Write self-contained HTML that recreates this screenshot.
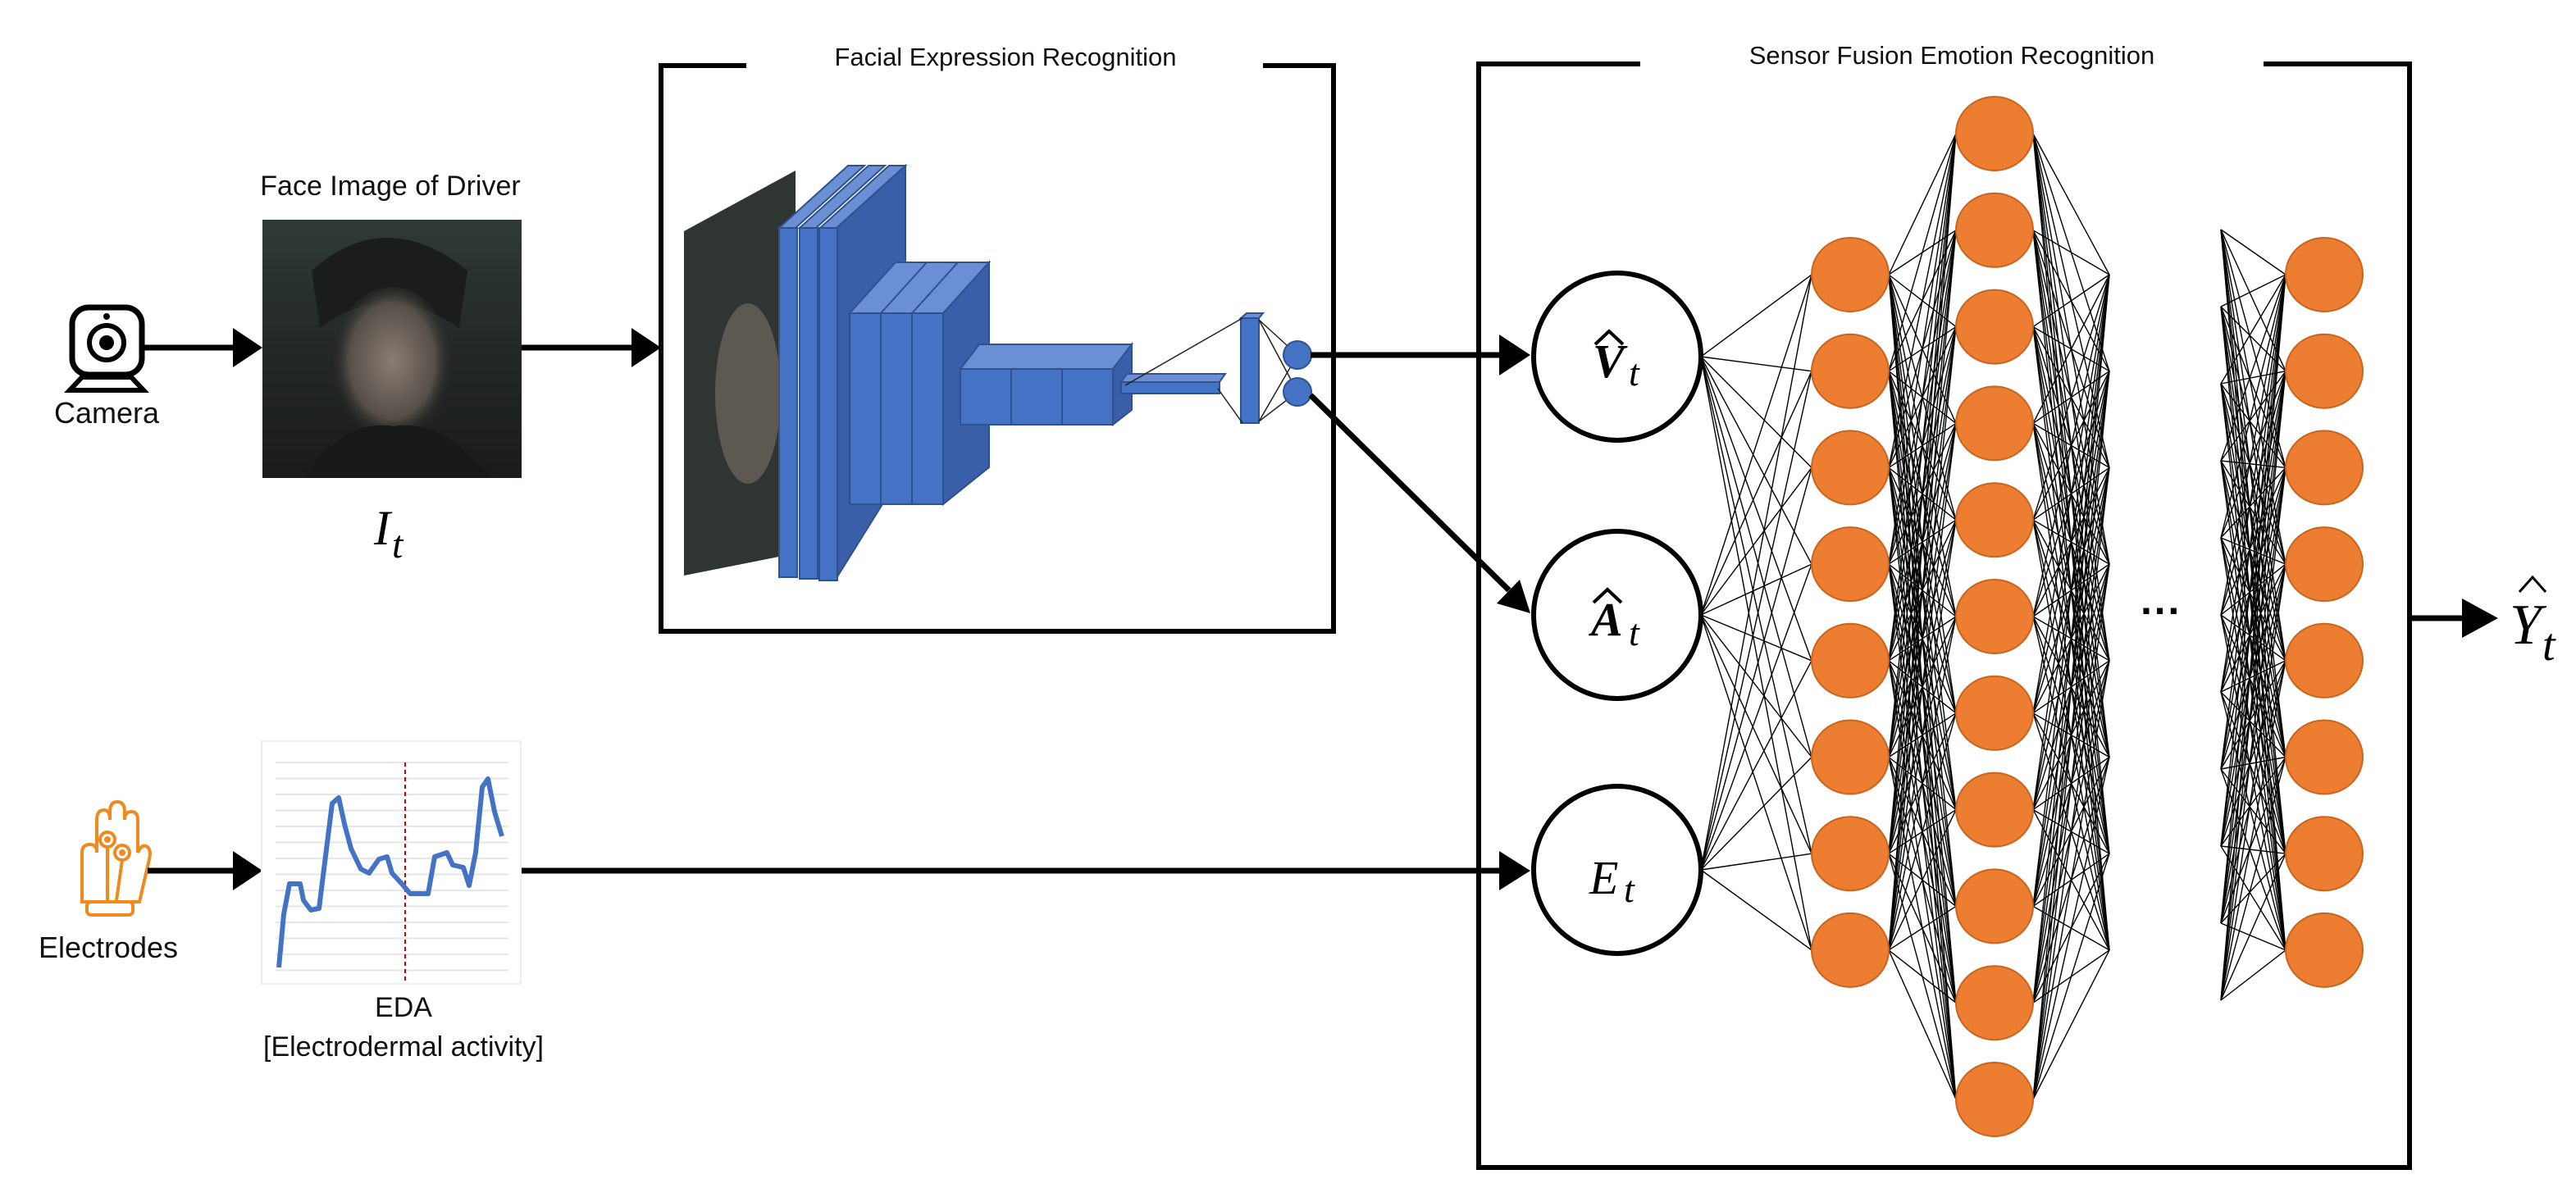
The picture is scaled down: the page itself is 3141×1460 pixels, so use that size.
<!DOCTYPE html>
<html><head><meta charset="utf-8">
<style>
html,body{margin:0;padding:0;background:#fff;}
svg{display:block;}
.t{font-family:"Liberation Sans",sans-serif;fill:#111;}
.m{font-family:"Liberation Serif",serif;font-style:italic;fill:#000;}
</style></head><body>
<svg id="s" width="3141" height="1460" viewBox="0 0 3141 1460" xmlns="http://www.w3.org/2000/svg">
<defs>
<linearGradient id="fg" x1="0" y1="0" x2="0" y2="1">
<stop offset="0" stop-color="#2f3a37"/><stop offset="0.5" stop-color="#232826"/><stop offset="1" stop-color="#1a1c1a"/>
</linearGradient>
<radialGradient id="face" cx="0.5" cy="0.45" r="0.5">
<stop offset="0" stop-color="#8a7e74"/><stop offset="0.7" stop-color="#564e48"/><stop offset="1" stop-color="#232826" stop-opacity="0"/>
</radialGradient>
</defs>
<rect width="3141" height="1460" fill="#fff"/>

<!-- Camera icon -->
<rect x="88" y="375" width="85" height="82" rx="20" fill="none" stroke="#000" stroke-width="7"/>
<circle cx="130" cy="418" r="21" fill="none" stroke="#000" stroke-width="6"/>
<circle cx="130" cy="418" r="9" fill="#000"/>
<circle cx="130" cy="386" r="4" fill="#000"/>
<path d="M100 460 L160 460 L175 476 L85 476 Z" fill="none" stroke="#000" stroke-width="6"/>
<text class="t" x="130" y="516" font-size="36" text-anchor="middle">Camera</text>

<line x1="172" y1="424" x2="292" y2="424" stroke="#000" stroke-width="7"/>
<polygon points="284,400 320,424 284,448" fill="#000"/>

<!-- face image -->
<text class="t" x="476" y="238" font-size="34" text-anchor="middle">Face Image of Driver</text>
<rect x="320" y="268" width="316" height="315" fill="url(#fg)"/>
<path d="M380 330 Q470 250 570 330 L560 400 Q470 340 390 400 Z" fill="#1a1d1c"/>
<ellipse cx="478" cy="450" rx="75" ry="100" fill="url(#face)"/>
<path d="M370 583 Q420 510 480 520 Q540 510 600 583 Z" fill="#171918"/>
<text class="m" x="456" y="664" font-size="60">I</text><text class="m" x="478" y="680" font-size="48">t</text>

<line x1="636" y1="424" x2="780" y2="424" stroke="#000" stroke-width="7"/>
<polygon points="770,400 806,424 770,448" fill="#000"/>

<!-- FER box -->
<path d="M910 80 L806 80 L806 770 L1626 770 L1626 80 L1540 80" fill="none" stroke="#000" stroke-width="6"/>
<text class="t" x="1226" y="80" font-size="31" text-anchor="middle">Facial Expression Recognition</text>

<!-- CNN -->
<polygon points="834,282 970,208 970,675 834,702" fill="#2f3532"/>
<ellipse cx="912" cy="480" rx="40" ry="110" fill="#6a625b" opacity="0.8"/>
<g stroke="#2F528F" stroke-width="2">
<polygon points="1000,278 1084,202 1104,202 1020,278" fill="#6A8FD4"/>
<polygon points="1020,278 1104,202 1104,570 1020,705" fill="#3A5FA8"/>
<polygon points="950,278 1034,202 1054,202 970,278" fill="#6A8FD4"/>
<polygon points="975,278 1059,202 1079,202 995,278" fill="#6A8FD4"/>
<rect x="950" y="278" width="22" height="426" fill="#4472C4"/>
<rect x="975" y="278" width="22" height="428" fill="#4472C4"/>
<rect x="999" y="278" width="22" height="430" fill="#4472C4"/>

<polygon points="1036,382 1092,320 1206,320 1150,382" fill="#6A8FD4"/>
<polygon points="1150,382 1206,320 1206,570 1150,615" fill="#3A5FA8"/>
<rect x="1036" y="382" width="38" height="233" fill="#4472C4"/>
<rect x="1074" y="382" width="38" height="233" fill="#4472C4"/>
<rect x="1112" y="382" width="38" height="233" fill="#4472C4"/>
<line x1="1074" y1="382" x2="1130" y2="320"/><line x1="1112" y1="382" x2="1168" y2="320"/>

<polygon points="1171,450 1194,420 1380,420 1357,450" fill="#6A8FD4"/>
<polygon points="1357,450 1380,420 1380,500 1357,518" fill="#3A5FA8"/>
<rect x="1171" y="450" width="62" height="68" fill="#4472C4"/>
<rect x="1233" y="450" width="62" height="68" fill="#4472C4"/>
<rect x="1295" y="450" width="62" height="68" fill="#4472C4"/>

<polygon points="1367,466 1374,456 1494,456 1487,466" fill="#6A8FD4"/>
<rect x="1367" y="466" width="120" height="14" fill="#4472C4"/>
<rect x="1513" y="388" width="22" height="128" fill="#4472C4"/>
<polygon points="1513,388 1520,382 1540,382 1535,388" fill="#6A8FD4"/>
</g>
<g stroke="#222" stroke-width="1.5">
<line x1="1372" y1="470" x2="1515" y2="388"/><line x1="1485" y1="474" x2="1515" y2="516"/>
<line x1="1535" y1="390" x2="1582" y2="433"/><line x1="1535" y1="390" x2="1582" y2="478"/>
<line x1="1535" y1="514" x2="1582" y2="433"/><line x1="1535" y1="514" x2="1582" y2="478"/>
</g>
<circle cx="1582" cy="433" r="17" fill="#4472C4" stroke="#2F528F" stroke-width="2"/>
<circle cx="1582" cy="478" r="17" fill="#4472C4" stroke="#2F528F" stroke-width="2"/>

<line x1="1598" y1="433" x2="1835" y2="433" stroke="#000" stroke-width="7"/>
<polygon points="1828,408 1866,433 1828,458" fill="#000"/>
<line x1="1598" y1="482" x2="1840" y2="720" stroke="#000" stroke-width="7"/>
<polygon points="1825,736 1866,748 1853,707" fill="#000"/>

<!-- Electrodes -->
<g fill="none" stroke="#EE8A1E" stroke-width="4">
<path d="M100 1100 L100 1040 Q100 1030 110 1030 Q118 1030 118 1040 L118 1000 Q118 988 127 988 Q134 988 134 1000 L134 990 Q134 978 143 978 Q152 978 152 990 L152 1000 Q152 990 160 990 Q168 990 168 1000 L168 1040 Q172 1030 178 1032 Q185 1035 182 1048 L170 1100 Z"/>
<rect x="106" y="1100" width="56" height="16" rx="5"/>
<circle cx="131" cy="1024" r="9"/><circle cx="149" cy="1040" r="9"/>
<line x1="131" y1="1033" x2="131" y2="1098"/><line x1="149" y1="1049" x2="142" y2="1098"/>
</g>
<circle cx="131" cy="1024" r="4" fill="#EE8A1E"/><circle cx="149" cy="1040" r="4" fill="#EE8A1E"/>
<text class="t" x="132" y="1168" font-size="36" text-anchor="middle">Electrodes</text>

<line x1="180" y1="1062" x2="292" y2="1062" stroke="#000" stroke-width="7"/>
<polygon points="284,1038 320,1062 284,1086" fill="#000"/>

<!-- EDA chart -->
<rect x="319" y="904" width="316" height="296" fill="#fff" stroke="#eee" stroke-width="2"/>
<g stroke="#e6e6e6" stroke-width="2" id="grid"></g>
<line x1="494" y1="930" x2="494" y2="1200" stroke="#c00" stroke-width="2" stroke-dasharray="5,4"/>
<polyline fill="none" stroke="#4472C4" stroke-width="6" stroke-linejoin="round" points="340,1180 346,1115 353,1078 366,1078 370,1098 379,1110 389,1108 395,1060 405,980 413,973 420,1005 428,1035 440,1060 450,1065 462,1048 472,1045 478,1065 490,1078 500,1090 515,1090 522,1090 530,1045 545,1040 552,1055 565,1058 572,1080 580,1040 588,960 595,950 603,990 612,1020"/>
<text class="t" x="492" y="1240" font-size="34" text-anchor="middle">EDA</text>
<text class="t" x="492" y="1288" font-size="34" text-anchor="middle">[Electrodermal activity]</text>

<line x1="636" y1="1062" x2="1835" y2="1062" stroke="#000" stroke-width="7"/>
<polygon points="1828,1038 1866,1062 1828,1086" fill="#000"/>

<!-- SFER box -->
<path d="M2000 78 L1803 78 L1803 1424 L2938 1424 L2938 78 L2760 78" fill="none" stroke="#000" stroke-width="6"/>
<text class="t" x="2380" y="78" font-size="31" text-anchor="middle">Sensor Fusion Emotion Recognition</text>

<g id="lines" stroke="#000" stroke-width="1.4"></g>
<g id="nodes"></g>

<g fill="#fff" stroke="#000" stroke-width="6">
<circle cx="1972" cy="435" r="102"/><circle cx="1972" cy="750" r="102"/><circle cx="1972" cy="1061" r="102"/>
</g>
<text x="1942" y="460" font-size="58" font-family="Liberation Serif,serif" font-weight="bold" font-style="italic">V</text>
<path d="M1945 420 L1962 404 L1979 420" fill="none" stroke="#000" stroke-width="4"/>
<text class="m" x="1986" y="470" font-size="46">t</text>
<text x="1940" y="775" font-size="58" font-family="Liberation Serif,serif" font-weight="bold" font-style="italic">A</text>
<path d="M1943 735 L1960 719 L1977 735" fill="none" stroke="#000" stroke-width="4"/>
<text class="m" x="1986" y="787" font-size="46">t</text>
<text class="m" x="1938" y="1090" font-size="58">E</text>
<text class="m" x="1980" y="1100" font-size="46">t</text>

<text x="2635" y="762" font-size="50" text-anchor="middle" font-family="Liberation Sans,sans-serif" font-weight="bold">···</text>

<line x1="2938" y1="754" x2="3010" y2="754" stroke="#000" stroke-width="7"/>
<polygon points="3002,730 3046,754 3002,778" fill="#000"/>
<text class="m" x="3060" y="785" font-size="70">Y</text>
<path d="M3072 722 L3088 704 L3104 722" fill="none" stroke="#000" stroke-width="3"/>
<text class="m" x="3100" y="805" font-size="56">t</text>
</svg>
<script>
var NS="http://www.w3.org/2000/svg";
function el(p,t,a){var e=document.createElementNS(NS,t);for(var k in a)e.setAttribute(k,a[k]);p.appendChild(e);return e;}
var grid=document.getElementById('grid');
for(var y=930;y<=1200;y+=19.5)el(grid,'line',{x1:336,y1:y,x2:620,y2:y});
var L=document.getElementById('lines'),N=document.getElementById('nodes');
var inp=[435,750,1061];
var l1=[],l2=[],l3=[];
for(var i=0;i<8;i++)l1.push(335+i*117.7);
for(var i=0;i<11;i++)l2.push(163+i*117.8);
for(var i=0;i<8;i++)l3.push(335+i*117.7);
var x1=2256,x2=2432,x3=2834,r=47;
inp.forEach(function(a){l1.forEach(function(b){el(L,'line',{x1:2074,y1:a,x2:x1-r,y2:b});});});
l1.forEach(function(a){l2.forEach(function(b){el(L,'line',{x1:x1+r,y1:a,x2:x2-r,y2:b});});});
l2.forEach(function(a){l1.forEach(function(b){el(L,'line',{x1:x2+r,y1:a,x2:2572,y2:b});});});
var lp=[];for(var i=0;i<11;i++)lp.push(280+i*94);
lp.forEach(function(a){l3.forEach(function(b){el(L,'line',{x1:2708,y1:a,x2:x3-r,y2:b});});});
function nd(x,y){el(N,'ellipse',{cx:x,cy:y,rx:r,ry:45,fill:'#ED7D31',stroke:'#C8651F','stroke-width':2});}
l1.forEach(function(y){nd(x1,y);});l2.forEach(function(y){nd(x2,y);});l3.forEach(function(y){nd(x3,y);});
</script>
</body></html>
